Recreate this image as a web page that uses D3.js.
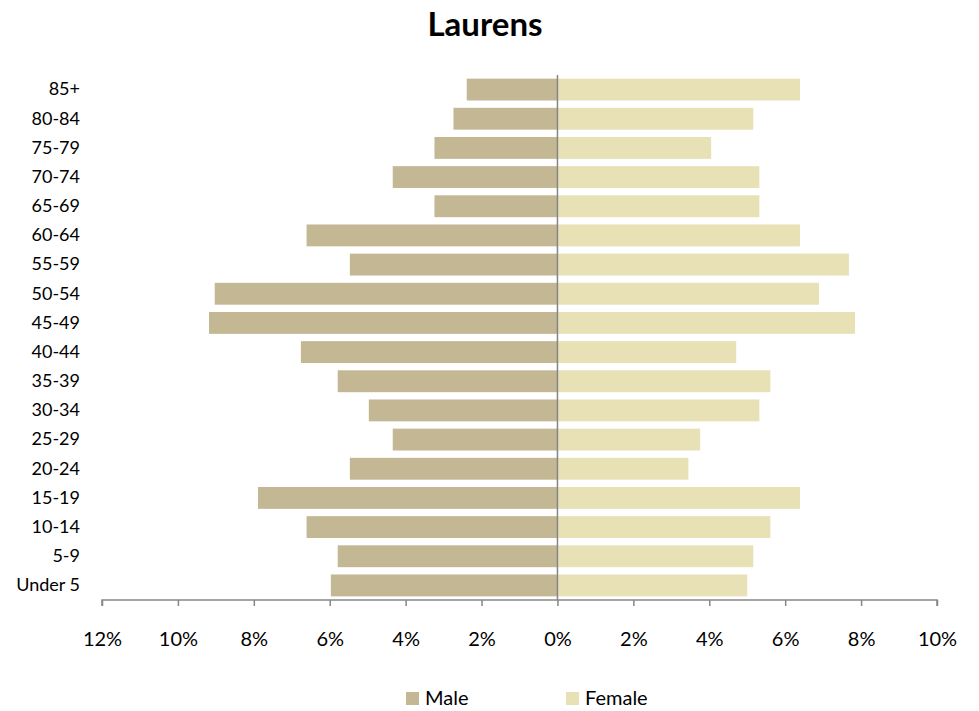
<!DOCTYPE html>
<html>
<head>
<meta charset="utf-8">
<script src="https://cdn.jsdelivr.net/npm/d3@7"></script>
<style>
  body { margin: 0; background: #fff; }
  text { font-family: Lato, "Open Sans", sans-serif; fill: #000; }
</style>
</head>
<body>
<div class="canvas"></div>
<script>
const ageGroups = ["85+", "80-84", "75-79", "70-74", "65-69", "60-64", "55-59", "50-54", "45-49",
  "40-44", "35-39", "30-34", "25-29", "20-24", "15-19", "10-14", "5-9", "Under 5"]
const male = [2.39, 2.74, 3.24, 4.34, 3.24, 6.61, 5.47, 9.03, 9.18,
  6.76, 5.79, 4.97, 4.34, 5.47, 7.89, 6.61, 5.79, 5.97]
const female = [6.39, 5.16, 4.05, 5.32, 5.32, 6.39, 7.68, 6.89, 7.84,
  4.71, 5.61, 5.32, 3.76, 3.45, 6.39, 5.61, 5.16, 5.0]
const xTicks = [-12, -10, -8, -6, -4, -2, 0, 2, 4, 6, 8, 10]
const seriesNames = ["Male", "Female"]

const width = 979, height = 711
const svg = d3.select(".canvas").append("svg")
  .attr("width", width).attr("height", height)

const margin = {top: 75, right: 42, bottom: 111, left: 102}
const graphWidth = width - margin.left - margin.right
const graphHeight = height - margin.top - margin.bottom

const graph = svg.append("g")
  .attr("transform", `translate(${margin.left}, ${margin.top})`)

const color = d3.scaleOrdinal().domain(seriesNames).range(["#c4b794", "#e8e1b6"])

const xScale = d3.scaleLinear().domain([-12, 10]).range([0, graphWidth])
const yScale = d3.scaleBand().domain(ageGroups).range([0, graphHeight]).paddingInner(0.25).paddingOuter(0.125)

const rows = ageGroups.map((g, i) => ({group: g, male: male[i], female: female[i]}))

// male bars go left from zero
graph.selectAll(".male").data(rows).enter().append("rect")
  .attr("class", "male")
  .attr("x", d => xScale(-d.male))
  .attr("y", d => yScale(d.group))
  .attr("width", d => xScale(0) - xScale(-d.male))
  .attr("height", yScale.bandwidth())
  .attr("fill", color("Male"))

graph.selectAll(".female").data(rows).enter().append("rect")
  .attr("class", "female")
  .attr("x", xScale(0))
  .attr("y", d => yScale(d.group))
  .attr("width", d => xScale(d.female) - xScale(0))
  .attr("height", yScale.bandwidth())
  .attr("fill", color("Female"))

// zero line
graph.append("line")
  .attr("x1", xScale(0)).attr("x2", xScale(0))
  .attr("y1", 0).attr("y2", graphHeight)
  .attr("stroke", "#868686").attr("stroke-width", 1.5)

// x axis
const xAxis = d3.axisBottom(xScale).tickValues(xTicks)
  .tickFormat(d => Math.abs(d) + "%").tickSize(6).tickPadding(26)
const xAxisGroup = graph.append("g")
  .attr("transform", `translate(0, ${graphHeight})`)
  .call(xAxis)
xAxisGroup.selectAll("path, line").attr("stroke", "#868686").attr("stroke-width", 1.5)
xAxisGroup.select(".domain").attr("d", `M0,6V0H${graphWidth}V6`)
xAxisGroup.selectAll("text").style("font-size", "20px").style("font-family", "Lato, 'Open Sans', sans-serif")

// y labels
const yAxis = d3.axisLeft(yScale).tickSize(0).tickPadding(22)
const yAxisGroup = graph.append("g").call(yAxis)
yAxisGroup.select(".domain").remove()
yAxisGroup.selectAll("text").style("font-size", "18px").style("font-family", "Lato, 'Open Sans', sans-serif")

// title
svg.append("text")
  .attr("x", 485).attr("y", 36)
  .attr("text-anchor", "middle")
  .style("font-size", "33px").style("font-weight", "bold")
  .text("Laurens")

// legend
const legend = svg.selectAll(".legend").data(seriesNames).enter().append("g")
  .attr("class", "legend")
  .attr("transform", (d, i) => `translate(${406 + i * 160}, 692)`)
legend.append("rect").attr("width", 13).attr("height", 13).attr("fill", d => color(d))
legend.append("text").attr("x", 19).attr("y", 13)
  .style("font-size", "20px").text(d => d)
</script>
</body>
</html>
